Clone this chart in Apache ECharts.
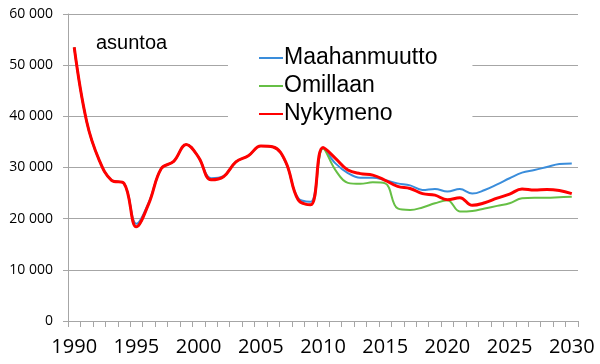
<!DOCTYPE html>
<html>
<head>
<meta charset="utf-8">
<script src="https://cdn.jsdelivr.net/npm/echarts@6/dist/echarts.min.js"></script>
<style>
html,body{margin:0;padding:0;background:#fff;}
#chart{width:600px;height:364px;}
</style>
</head>
<body>
<div id="chart"></div>
<script>
var years = [];
for (var y = 1990; y <= 2030; y++) years.push(String(y));

var seriesNames = ["Maahanmuutto", "Omillaan", "Nykymeno"];

var maahanmuutto = [53500, 39000, 31500, 27500, 26900, 19000, 23200, 29800, 31200, 34500,
  32000, 27900, 28300, 31100, 32300, 34200, 34000, 31000, 24000, 23300,
  33700, 30800, 28900, 28000, 28000, 27500, 26900, 26500, 25600, 25800,
  25300, 25800, 24900, 25600, 26700, 27900, 29000, 29500, 30100, 30700, 30800];

var omillaan = [53500, 39000, 31500, 27500, 26900, 18400, 23000, 29800, 31200, 34500,
  32000, 27600, 28200, 31100, 32300, 34200, 34000, 31100, 23700, 22700,
  33700, 29500, 27000, 26800, 27100, 26900, 22000, 21700, 22200, 23000,
  23600, 21400, 21500, 22000, 22500, 23000, 24000, 24100, 24100, 24200, 24300];

var nykymeno = [53500, 39000, 31500, 27500, 26900, 18400, 23000, 29800, 31200, 34500,
  32000, 27600, 28200, 31100, 32300, 34200, 34000, 31100, 23700, 22700,
  33900, 31800, 29500, 28800, 28500, 27500, 26300, 25900, 24900, 24600,
  23700, 24100, 22600, 23100, 24000, 24800, 25800, 25600, 25700, 25500, 24900];

var yTicks = [0, 10000, 20000, 30000, 40000, 50000, 60000];

var colors = ["#3A8DDB", "#66BF45", "#FF0000"];
var widths = [2, 2, 3];
var dataSets = [maahanmuutto, omillaan, nykymeno];

var chart = echarts.init(document.getElementById('chart'), null, {renderer: 'canvas'});

function fmt(v) {
  return String(v).replace(/\B(?=(\d{3})+(?!\d))/g, ' ');
}

var series = seriesNames.map(function (n, i) {
  return {
    name: n,
    type: 'line',
    data: dataSets[i],
    smooth: 0.4,
    showSymbol: false,
    symbol: 'none',
    lineStyle: {color: colors[i], width: widths[i]},
    itemStyle: {color: colors[i]},
    z: 2 + i
  };
});

chart.setOption({
  animation: false,
  backgroundColor: '#ffffff',
  title: {
    text: 'asuntoa',
    left: 91,
    top: 28,
    textStyle: {fontFamily: 'Liberation Sans, Arial, sans-serif', fontSize: 20, fontWeight: 'normal', color: '#000'}
  },
  legend: {
    orient: 'vertical',
    left: 228,
    top: 34,
    padding: [10, 35, 10, 31],
    backgroundColor: '#ffffff',
    itemGap: 0,
    itemWidth: 24,
    itemHeight: 2,
    icon: 'rect',
    z: 10,
    textStyle: {fontFamily: 'Liberation Sans, Arial, sans-serif', fontSize: 23, color: '#000', padding: [0, 0, 0, -4], lineHeight: 28},
    data: seriesNames.map(function (n, i) { return {name: n, itemStyle: {color: colors[i]}}; })
  },
  grid: {left: 68, right: 22, top: 14, bottom: 43},
  xAxis: {
    type: 'category',
    data: years,
    boundaryGap: true,
    axisLine: {lineStyle: {color: '#a6a6a6', width: 1}},
    axisTick: {show: true, interval: 0, length: 6, alignWithLabel: false, lineStyle: {color: '#a6a6a6'}},
    axisLabel: {interval: 4, margin: 16, fontFamily: 'Open Sans, sans-serif', fontSize: 20, color: '#000'},
    splitLine: {show: false}
  },
  yAxis: {
    type: 'value',
    min: yTicks[0],
    max: yTicks[yTicks.length - 1],
    interval: yTicks[1] - yTicks[0],
    axisLine: {show: true, lineStyle: {color: '#a6a6a6'}},
    axisTick: {show: true, length: 5, lineStyle: {color: '#a6a6a6'}},
    axisLabel: {margin: 15, fontFamily: 'Open Sans, sans-serif', fontSize: 14, color: '#000', formatter: fmt},
    splitLine: {show: true, lineStyle: {color: '#a6a6a6', width: 1}}
  },
  series: series
});
</script>
</body>
</html>
